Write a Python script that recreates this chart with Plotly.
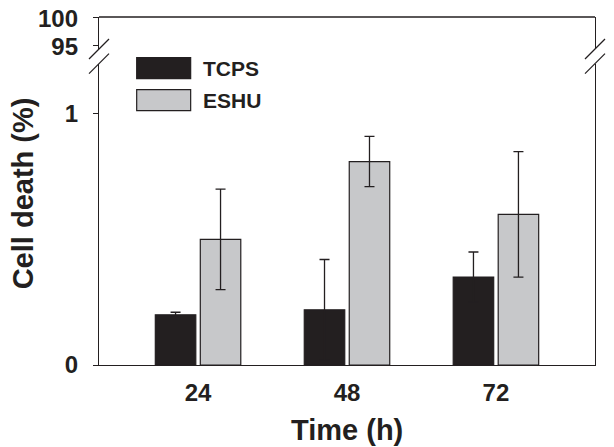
import plotly.graph_objects as go

# ---- data ----
times = ["24", "48", "72"]
tcps = [0.20, 0.22, 0.35]
tcps_err = [0.01, 0.20, 0.10]
eshu = [0.50, 0.81, 0.60]
eshu_err = [0.20, 0.10, 0.25]
lower_ticks = [0, 1]
upper_ticks = [95, 100]

FONT = "Liberation Sans, Arial, Helvetica, sans-serif"
INK = "#231f20"
GRAY = "#c7c8ca"

# the page has an 8px body margin, so the figure is drawn 8px in from the top-left
OFF = 8
PL, PR, PT, PB = 99.3, 595.5, 17.3, 365.5   # plot area in window pixels

fig = go.Figure()
fig.add_trace(go.Bar(
    x=times, y=tcps, name="TCPS",
    marker=dict(color=INK, line=dict(color=INK, width=1.2)),
    error_y=dict(type="data", array=tcps_err, visible=True, color=INK, thickness=1.3, width=5),
    showlegend=False))
fig.add_trace(go.Bar(
    x=times, y=eshu, name="ESHU",
    marker=dict(color=GRAY, line=dict(color=INK, width=1.2)),
    error_y=dict(type="data", array=eshu_err, visible=True, color=INK, thickness=1.3, width=5),
    showlegend=False))
# invisible trace so the upper (broken) axis segment is drawn
fig.add_trace(go.Scatter(x=[times[0]], y=[None], yaxis="y2", mode="markers",
                         showlegend=False, hoverinfo="skip"))

lower_top = 0.866
upper_bot = 0.908

tickfont = dict(family=FONT, size=24, color=INK, weight="bold")
fig.update_layout(
    width=614 - OFF, height=447 - OFF,
    margin=dict(l=PL - OFF, r=614 - PR, t=PT - OFF, b=447 - PB),
    plot_bgcolor="white", paper_bgcolor="white",
    barmode="group", bargap=0.396, bargroupgap=0.1,
    xaxis=dict(type="category", range=[-0.665, 2.665], showline=True, linecolor=INK,
               linewidth=1.3, ticks="", showgrid=False, zeroline=False, tickfont=tickfont,
               ticklabelstandoff=6, automargin=False),
    yaxis=dict(domain=[0, lower_top], range=[0, 1.2], tickvals=lower_ticks,
               showline=True, mirror=True, linecolor=INK, linewidth=1.3,
               ticks="outside", ticklen=5, tickcolor=INK, tickwidth=1.3,
               showgrid=False, zeroline=False, tickfont=tickfont,
               ticklabelstandoff=10, automargin=False, ticklabeloverflow="allow"),
    yaxis2=dict(domain=[upper_bot, 1], range=[94.3, 100.001], tickvals=upper_ticks,
                anchor="x", showline=True, mirror=True, linecolor=INK, linewidth=1.3,
                ticks="outside", ticklen=5, tickcolor=INK, tickwidth=1.3,
                showgrid=False, zeroline=False, tickfont=tickfont,
                ticklabelstandoff=10, ticklabelshift=2,
                automargin=False, ticklabeloverflow="allow"),
)

shapes = []
# top border
shapes.append(dict(type="line", xref="paper", yref="paper", x0=0, x1=1, y0=1, y1=1,
                   line=dict(color=INK, width=1.3)))
# axis break slashes on both sides
for xa in (0, 1):
    for ya in (upper_bot, lower_top):
        shapes.append(dict(type="line", xref="paper", yref="paper",
                           xsizemode="pixel", ysizemode="pixel",
                           xanchor=xa, yanchor=ya,
                           x0=-10, x1=10, y0=-10, y1=10,
                           line=dict(color=INK, width=1.3)))


def px_x(p):
    return (p - PL) / (PR - PL)


def px_y(p):
    return (PB - p) / (PB - PT)


# legend boxes
legend_items = [("TCPS", INK, 58, 79, 68.5), ("ESHU", GRAY, 90, 111, 100.5)]
annotations = []
for label, col, ytop, ybot, ymid in legend_items:
    shapes.append(dict(type="rect", xref="paper", yref="paper",
                       x0=px_x(137), x1=px_x(191), y0=px_y(ybot), y1=px_y(ytop),
                       fillcolor=col, line=dict(color=INK, width=1.2)))
    annotations.append(dict(text=label, xref="paper", yref="paper",
                            x=px_x(201), y=px_y(ymid), xanchor="left", yanchor="middle",
                            showarrow=False,
                            font=dict(family=FONT, size=21, color=INK, weight="bold")))

annotations.append(dict(text="Time (h)", xref="paper", yref="paper",
                        x=0.5, y=px_y(431), xanchor="center", yanchor="middle",
                        showarrow=False,
                        font=dict(family=FONT, size=29, color=INK, weight="bold")))
annotations.append(dict(text="Cell death (%)", xref="paper", yref="paper",
                        x=px_x(23), y=px_y(194), xanchor="center", yanchor="middle",
                        textangle=-90, showarrow=False,
                        font=dict(family=FONT, size=29, color=INK, weight="bold")))

fig.update_layout(shapes=shapes, annotations=annotations)
fig.write_html("out.html")
